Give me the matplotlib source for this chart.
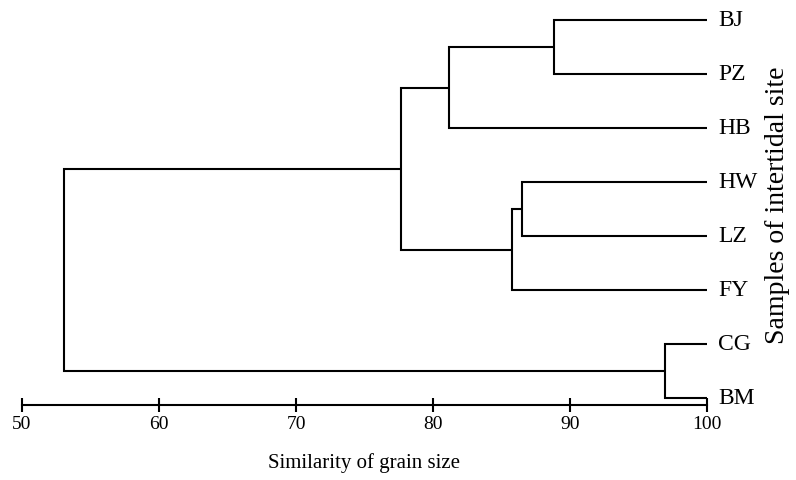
import matplotlib
matplotlib.use("Agg")
import matplotlib.pyplot as plt

# Leaves, top to bottom
leaves = ["BJ", "PZ", "HB", "HW", "LZ", "FY", "CG", "BM"]
# Merges: (left child, right child, similarity level, new node name)
merge_left = ["BJ", "n1", "HW", "n3", "n2", "CG", "n5"]
merge_right = ["PZ", "HB", "LZ", "FY", "n4", "BM", "n6"]
merge_level = [88.8, 81.2, 86.5, 85.8, 77.7, 96.9, 53.1]
merge_name = ["n1", "n2", "n3", "n4", "n5", "n6", "root"]

xticks = [50, 60, 70, 80, 90, 100]

plt.rcParams['font.family'] = ['Liberation Serif', 'DejaVu Serif']

fig = plt.figure(figsize=(7.96, 4.8), dpi=100)
ax = fig.add_axes([22/796, (480-404.5)/480, 685/796, (404.5-3.8)/480])

n = len(leaves)
pos = {name: n - 1 - i for i, name in enumerate(leaves)}
lev = {name: 100.0 for name in leaves}

lw = 1.5
for l, r, h, nm in zip(merge_left, merge_right, merge_level, merge_name):
    yl, yr = pos[l], pos[r]
    ax.plot([lev[l], h, h, lev[r]], [yl, yl, yr, yr], color='black', lw=lw,
            solid_joinstyle='miter', solid_capstyle='butt')
    pos[nm] = (yl + yr) / 2
    lev[nm] = h

for name in leaves:
    ax.text(100.8, pos[name], name, va='center', ha='left', fontsize=17)

ax.set_xlim(50, 100)
ax.set_ylim(-0.12, 7.3)
for s in ['top', 'right', 'left']:
    ax.spines[s].set_visible(False)
ax.spines['bottom'].set_linewidth(lw)
ax.spines['bottom'].set_position(('data', -0.12))
ax.set_yticks([])
ax.set_xticks(xticks)
ax.set_xticklabels([str(t) for t in xticks])
ax.tick_params(axis='x', direction='inout', length=10, width=lw, labelsize=14, pad=3)
ax.set_xlabel("Similarity of grain size", fontsize=15, labelpad=15)

fig.text(778/796, 1 - 205/480, "Samples of intertidal site", rotation=90,
         va='center', ha='center', fontsize=20)

fig.savefig("out.png", dpi=100)
